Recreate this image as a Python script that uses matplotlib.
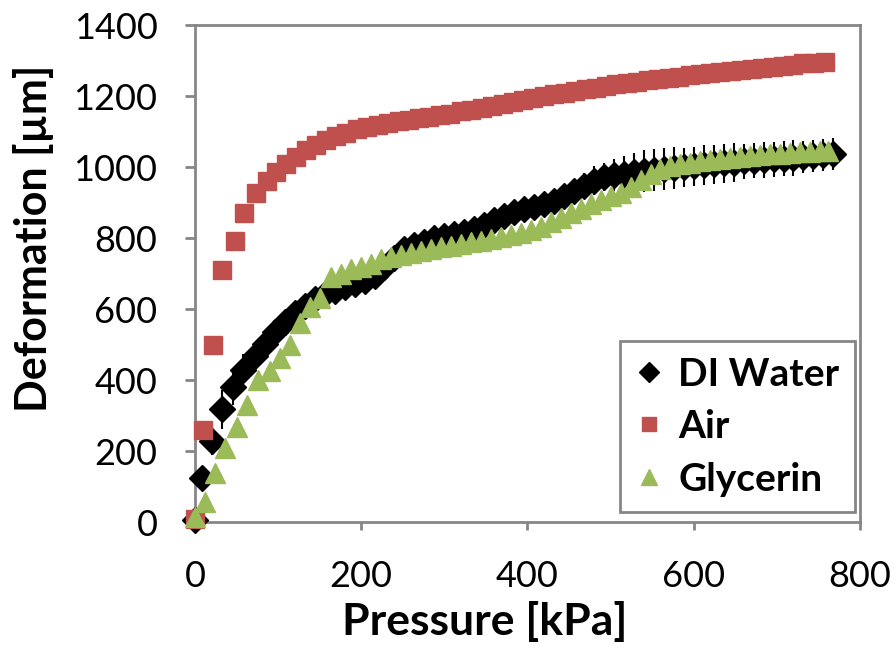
import matplotlib
matplotlib.use("Agg")
import matplotlib.pyplot as plt
from matplotlib.lines import Line2D

plt.rcParams['font.family'] = ['Lato', 'DejaVu Sans']

# DI water (diamonds, with error bars)
di_p = [0, 8, 20, 32, 46, 58, 72, 84, 96, 108, 120, 132, 144, 156, 168, 180, 192, 204,
        216, 228, 240, 252, 264, 276, 288, 300, 312, 324, 336, 348, 360, 372, 384, 396,
        408, 420, 432, 444, 456, 468, 480, 492, 504, 516, 528, 540, 552, 564, 576, 588,
        600, 612, 624, 636, 648, 660, 672, 684, 696, 708, 720, 732, 744, 756, 768]
di_d = [5, 124, 228, 318, 380, 428, 468, 503, 535, 563, 590, 610, 628, 642, 652, 662, 670, 678,
        692, 718, 745, 768, 780, 790, 800, 806, 812, 818, 826, 838, 850, 862, 874, 882,
        888, 895, 905, 918, 932, 948, 962, 972, 978, 982, 986, 989, 992, 995, 997, 1000,
        1003, 1006, 1008, 1011, 1013, 1016, 1018, 1020, 1022, 1024, 1026, 1029, 1031, 1033, 1036]
di_err = [10, 30, 40, 55, 50, 45, 40, 35, 35, 30, 30, 30, 30, 30, 30, 30, 30, 30,
          30, 30, 30, 30, 30, 30, 30, 30, 30, 30, 30, 30, 30, 30, 30, 30,
          30, 30, 30, 30, 35, 35, 40, 40, 45, 50, 55, 60, 60, 60, 60, 55,
          55, 55, 55, 55, 55, 50, 50, 50, 50, 50, 50, 45, 45, 45, 45]

# Air (squares)
air_p = [0, 10, 22, 32, 48, 59, 74, 87, 98, 110, 122, 134, 146, 158, 170, 182, 195, 207,
         220, 232, 245, 257, 270, 282, 295, 307, 320, 332, 345, 357, 370, 382, 395, 407,
         420, 432, 445, 457, 470, 482, 495, 507, 520, 532, 545, 557, 570, 582, 595, 607,
         620, 632, 645, 657, 670, 682, 695, 707, 720, 732, 745, 758]
air_d = [10, 259, 499, 710, 792, 870, 927, 960, 986, 1008, 1028, 1048, 1063, 1076, 1087, 1097,
         1106, 1112, 1118, 1123, 1129, 1134, 1138, 1142, 1146, 1151, 1157, 1162, 1167, 1172,
         1177, 1184, 1190, 1195, 1200, 1205, 1210, 1214, 1219, 1224, 1228, 1233, 1237, 1241,
         1245, 1249, 1252, 1255, 1259, 1262, 1265, 1268, 1271, 1274, 1277, 1280, 1283, 1286,
         1289, 1292, 1294, 1297]

# Glycerin (triangles)
gly_p = [0, 12, 24, 36, 50, 62, 76, 90, 102, 114, 126, 138, 150, 164, 176, 188, 200, 212,
         224, 236, 248, 260, 272, 284, 296, 308, 320, 332, 344, 356, 368, 380, 392, 404,
         416, 428, 440, 452, 464, 476, 488, 500, 512, 524, 536, 548, 560, 572, 584, 596,
         608, 620, 632, 644, 656, 668, 680, 692, 704, 716, 728, 740, 752, 762]
gly_d = [14, 56, 138, 208, 268, 330, 400, 425, 462, 500, 560, 606, 632, 690, 700, 712, 718, 728,
         740, 748, 752, 758, 764, 770, 775, 779, 783, 788, 792, 797, 802, 808, 815, 822,
         832, 845, 858, 870, 882, 895, 908, 918, 928, 945, 965, 982, 995, 1004, 1009, 1013,
         1017, 1020, 1023, 1026, 1029, 1031, 1034, 1036, 1038, 1040, 1042, 1044, 1046, 1045]

red = "#C0504D"
green = "#9BBB59"
grey = "#868686"

fig = plt.figure(figsize=(8.96, 6.51), dpi=100)
ax = fig.add_axes([0.2176, 0.198, 0.7422, 0.7634])

ax.errorbar(di_p, di_d, yerr=di_err, fmt="D", color="black", ms=13, elinewidth=1.5,
            capsize=0, clip_on=False, zorder=3)
ax.plot(air_p, air_d, "s", color=red, ms=12.5, mec=red, clip_on=False, zorder=4)
ax.plot(gly_p, gly_d, "^", color=green, ms=14.5, mec=green, clip_on=False, zorder=5)

ax.set_xlim(0, 800)
ax.set_ylim(0, 1400)
ax.set_xticks([0, 200, 400, 600, 800])
ax.set_yticks(range(0, 1401, 200))

for s in ax.spines.values():
    s.set_color(grey)
    s.set_linewidth(2)
ax.tick_params(direction="out", color=grey, width=2, labelsize=26, labelcolor="black")
ax.tick_params(axis="y", length=7, pad=20)
ax.tick_params(axis="x", length=6, pad=21)

ax.set_xlabel("Pressure [kPa]", fontsize=32, fontweight="bold", va="center")
ax.set_ylabel("Deformation [µm]", fontsize=31, fontweight="bold", va="center")
ax.xaxis.set_label_coords(0.436, -0.2)
ax.yaxis.set_label_coords(-0.243, 0.57)

handles = [
    Line2D([], [], ls="none", marker="D", color="black", ms=10),
    Line2D([], [], ls="none", marker="s", color=red, ms=10),
    Line2D([], [], ls="none", marker="^", color=green, ms=11),
]
leg = ax.legend(handles, ["DI Water", "Air", "Glycerin"], loc="lower right",
                bbox_to_anchor=(0.9925, 0.02), borderaxespad=0,
                prop={"size": 28, "weight": "bold"},
                fancybox=False, framealpha=1, edgecolor=grey, handlelength=0.7,
                handletextpad=0.4, borderpad=0.4, labelspacing=0.45)
leg.get_frame().set_linewidth(2)

fig.savefig("out.png", dpi=100)
